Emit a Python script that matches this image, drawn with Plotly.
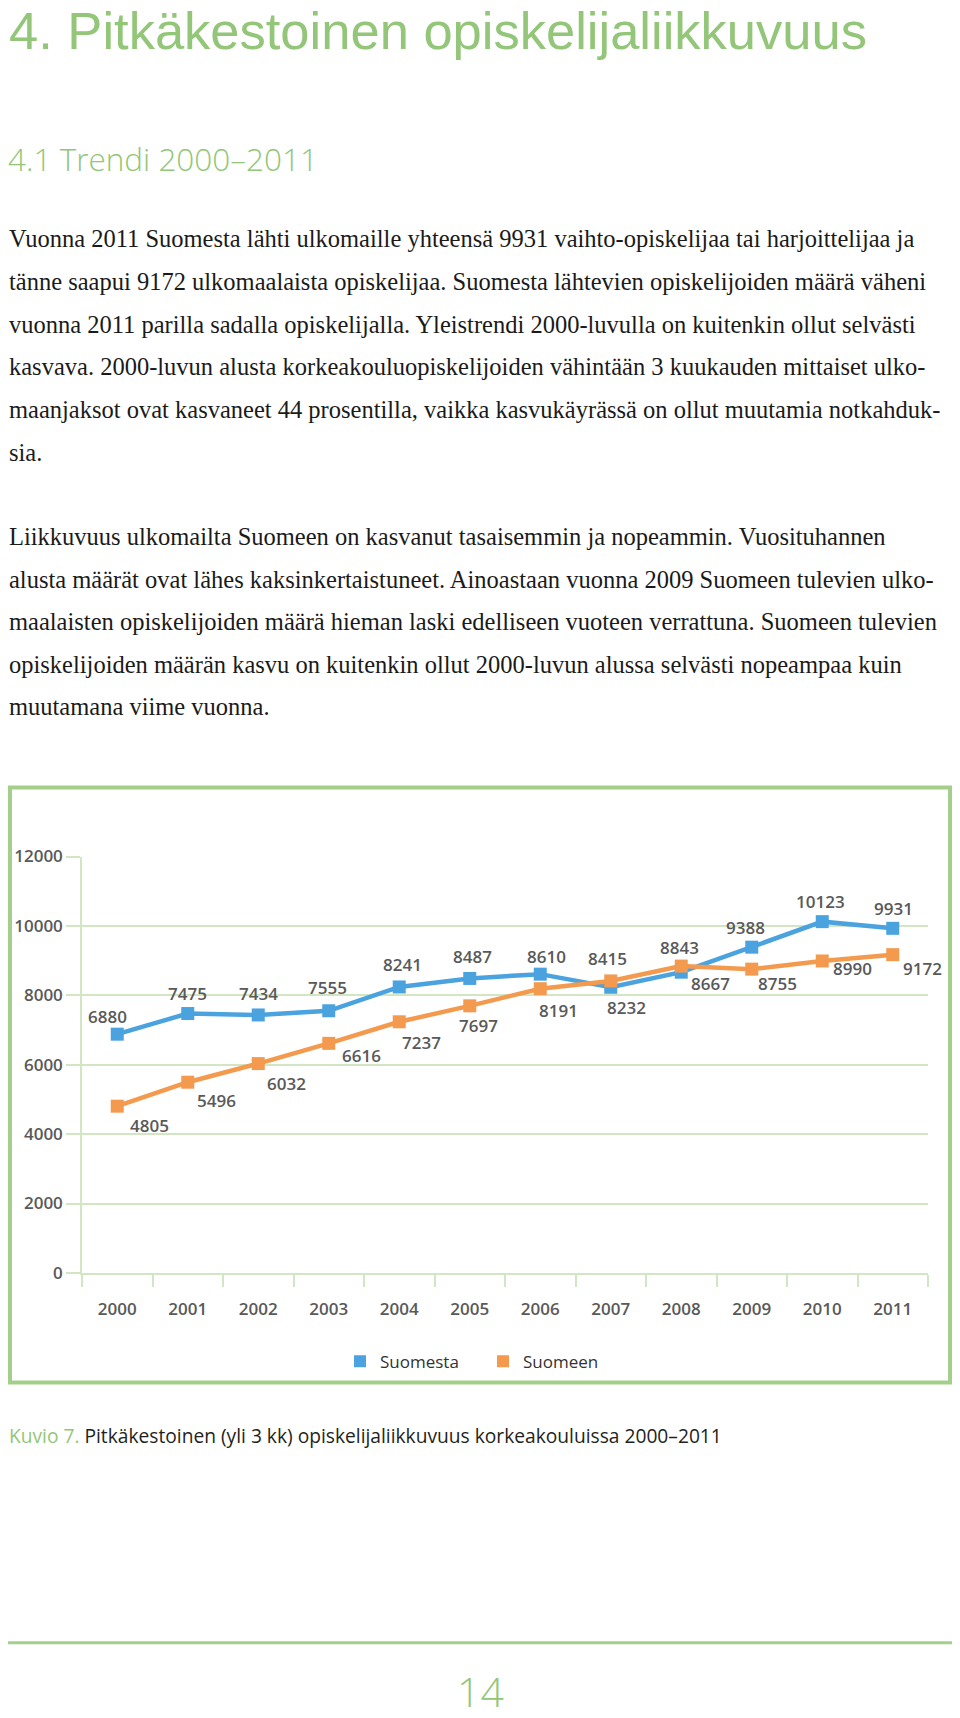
import plotly.graph_objects as go

# ---------------- data ----------------
years = ["2000", "2001", "2002", "2003", "2004", "2005",
         "2006", "2007", "2008", "2009", "2010", "2011"]
suomesta = [6880, 7475, 7434, 7555, 8241, 8487, 8610, 8232, 8667, 9388, 10123, 9931]
suomeen = [4805, 5496, 6032, 6616, 7237, 7697, 8191, 8415, 8843, 8755, 8990, 9172]
y_ticks = [0, 2000, 4000, 6000, 8000, 10000, 12000]
series_names = ["Suomesta", "Suomeen"]

title_text = "4. Pitkäkestoinen opiskelijaliikkuvuus"
subtitle_text = "4.1 Trendi 2000–2011"
para1 = [
    "Vuonna 2011 Suomesta lähti ulkomaille yhteensä 9931 vaihto-opiskelijaa tai harjoittelijaa ja",
    "tänne saapui 9172 ulkomaalaista opiskelijaa. Suomesta lähtevien opiskelijoiden määrä väheni",
    "vuonna 2011 parilla sadalla opiskelijalla. Yleistrendi 2000-luvulla on kuitenkin ollut selvästi",
    "kasvava. 2000-luvun alusta korkeakouluopiskelijoiden vähintään 3 kuukauden mittaiset ulko-",
    "maanjaksot ovat kasvaneet 44 prosentilla, vaikka kasvukäyrässä on ollut muutamia notkahduk-",
    "sia.",
]
para2 = [
    "Liikkuvuus ulkomailta Suomeen on kasvanut tasaisemmin ja nopeammin. Vuosituhannen",
    "alusta määrät ovat lähes kaksinkertaistuneet. Ainoastaan vuonna 2009 Suomeen tulevien ulko-",
    "maalaisten opiskelijoiden määrä hieman laski edelliseen vuoteen verrattuna. Suomeen tulevien",
    "opiskelijoiden määrän kasvu on kuitenkin ollut 2000-luvun alussa selvästi nopeampaa kuin",
    "muutamana viime vuonna.",
]
caption_label = "Kuvio 7."
caption_text = "Pitkäkestoinen (yli 3 kk) opiskelijaliikkuvuus korkeakouluissa 2000–2011"
page_number = "14"

# ---------------- styles ----------------
W, H = 960, 1718
GREEN = "#93c678"
BORDER_GREEN = "#a3cf8b"
GRID = "#d2e6c3"
BLUE = "#4aa3df"
ORANGE = "#f39a4f"
LABEL_GRAY = "#595959"
SANS = "Open Sans"
SERIF = "Liberation Serif"

# label pixel offsets (dx, dy) relative to points, screen px (dy down)
blue_offsets = [(-10, -18), (0, -20), (0, -21), (-1, -23), (3, -22), (3, -22),
                (6, -18), (16, 20), (29, 11), (-6, -20), (-2, -20), (1, -20)]
orange_offsets = [(32, 19), (29, 18), (28, 20), (33, 12), (22, 21), (9, 20),
                  (18, 22), (-3, -22), (-2, -19), (26, 14), (30, 8), (30, 14)]


def px(x):
    return x / W


def py(y):
    return 1 - y / H


fig = go.Figure()

for name, vals, col in [(series_names[0], suomesta, BLUE), (series_names[1], suomeen, ORANGE)]:
    fig.add_trace(go.Scatter(
        x=years, y=vals, mode="lines+markers", name=name, showlegend=False,
        line=dict(color=col, width=4.5),
        marker=dict(symbol="square", size=13, color=col),
        cliponaxis=False,
    ))
# legend entries (square swatches)
for name, col in [(series_names[0], BLUE), (series_names[1], ORANGE)]:
    fig.add_trace(go.Scatter(
        x=[None], y=[None], mode="markers", name=name,
        marker=dict(symbol="square", size=12, color=col),
    ))

annotations = []
label_font = dict(family=SANS, size=17, color=LABEL_GRAY, weight=600)
for vals, offs in [(suomesta, blue_offsets), (suomeen, orange_offsets)]:
    for i, (v, (dx, dy)) in enumerate(zip(vals, offs)):
        annotations.append(dict(
            x=i, y=v, xref="x", yref="y", text=str(v), showarrow=False,
            xshift=dx, yshift=-dy, font=label_font,
            xanchor="center", yanchor="middle",
        ))

# page texts
annotations.append(dict(x=px(7), y=1, xref="paper", yref="paper", text=title_text,
                        showarrow=False, xanchor="left", yanchor="top", yshift=13,
                        font=dict(family="Liberation Sans", size=52.5, color=GREEN)))
annotations.append(dict(x=px(6), y=py(148), xref="paper", yref="paper", text=subtitle_text,
                        showarrow=False, xanchor="left", yanchor="middle",
                        font=dict(family=SANS, size=31.5, color=GREEN, weight=300)))
body_font = dict(family=SERIF, size=24.5, color="#1a1a1a")
for i, line in enumerate(para1):
    annotations.append(dict(x=px(7), y=py(230 + 43.2 * i), xref="paper", yref="paper",
                            text=line, showarrow=False, xanchor="left", yanchor="middle",
                            font=body_font))
for i, line in enumerate(para2):
    annotations.append(dict(x=px(7), y=py(532 + 43.1 * i), xref="paper", yref="paper",
                            text=line, showarrow=False, xanchor="left", yanchor="middle",
                            font=body_font))
annotations.append(dict(x=px(7), y=py(1443), xref="paper", yref="paper",
                        text=f'<span style="color:{GREEN}">{caption_label}</span> {caption_text}',
                        showarrow=False, xanchor="left", yanchor="middle",
                        font=dict(family=SANS, size=19.2, color="#231f20")))
annotations.append(dict(x=px(480), y=0, xref="paper", yref="paper", text=page_number,
                        showarrow=False, xanchor="center", yanchor="bottom", yshift=-14,
                        font=dict(family=SANS, size=41, color=GREEN, weight=300)))

shapes = [
    dict(type="rect", xref="paper", yref="paper", x0=px(10), x1=px(950), y0=py(1389), y1=py(786),
         line=dict(color=BORDER_GREEN, width=4), fillcolor="rgba(0,0,0,0)", layer="below"),
    dict(type="line", xref="paper", yref="paper", x0=px(8), x1=px(952), y0=py(1653), y1=py(1653),
         line=dict(color=BORDER_GREEN, width=3)),
]

fig.update_layout(
    width=W, height=H,
    margin=dict(l=0, r=0, t=0, b=0),
    paper_bgcolor="white", plot_bgcolor="white",
    annotations=annotations, shapes=shapes,
    showlegend=True,
    legend=dict(orientation="h", x=px(340), y=py(1368), xanchor="left", yanchor="middle",
                entrywidth=98, entrywidthmode="pixels",
                font=dict(family=SANS, size=17, color="#333333", weight=500),
                bgcolor="rgba(0,0,0,0)", itemclick=False, itemdoubleclick=False),
    xaxis=dict(
        type="category", range=[-0.5, 11.5], domain=[px(82), px(928)],
        showline=True, linecolor=GRID, linewidth=1.5,
        ticks="outside", tickson="boundaries", ticklen=12, tickcolor=GRID, tickwidth=1.5,
        showgrid=False, tickfont=dict(family=SANS, size=17, color=LABEL_GRAY, weight=600),
        ticklabelstandoff=20, fixedrange=True,
    ),
    yaxis=dict(
        range=[0, 12000], domain=[py(1278), py(856)],
        tickvals=y_ticks, ticktext=[str(t) for t in y_ticks],
        showgrid=True, gridcolor=GRID, gridwidth=1.5, zeroline=False,
        showline=True, linecolor=GRID, linewidth=1.5,
        ticks="outside", ticklen=14, tickcolor=GRID, tickwidth=1.5,
        tickfont=dict(family=SANS, size=17, color=LABEL_GRAY, weight=600), fixedrange=True,
    ),
)

fig.write_html("out.html", config={"displayModeBar": False},
               post_script="document.body.style.margin='0';document.body.style.overflow='hidden';")
